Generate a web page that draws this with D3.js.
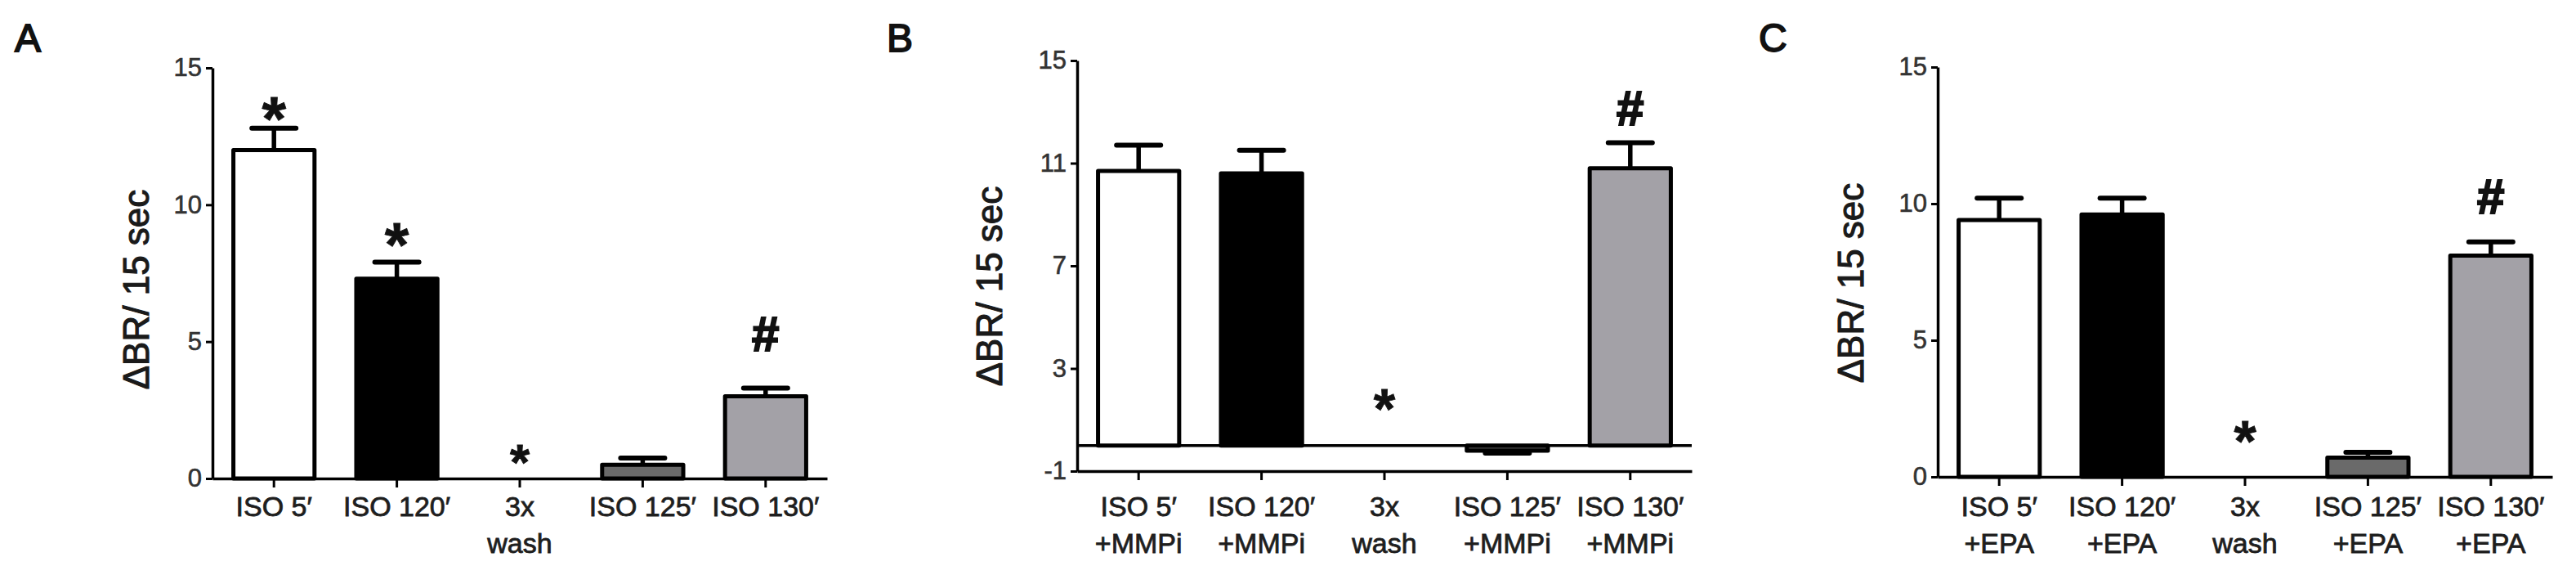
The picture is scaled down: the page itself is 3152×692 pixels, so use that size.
<!DOCTYPE html>
<html>
<head>
<meta charset="utf-8">
<script src="https://cdn.jsdelivr.net/npm/d3@7"></script>
<style>
  body { margin: 0; background: #fff; }
  svg { display: block; font-family: "Liberation Sans", Arial, sans-serif; }
</style>
</head>
<body>
<script>
// categories (line-split labels)
var catsA = [["ISO 5\u2032"], ["ISO 120\u2032"], ["3x", "wash"], ["ISO 125\u2032"], ["ISO 130\u2032"]];
var catsB = [["ISO 5\u2032", "+MMPi"], ["ISO 120\u2032", "+MMPi"], ["3x", "wash"], ["ISO 125\u2032", "+MMPi"], ["ISO 130\u2032", "+MMPi"]];
var catsC = [["ISO 5\u2032", "+EPA"], ["ISO 120\u2032", "+EPA"], ["3x", "wash"], ["ISO 125\u2032", "+EPA"], ["ISO 130\u2032", "+EPA"]];

// mean values and SEM
var valsA = [12.0, 7.3, 0, 0.5, 3.0];
var errsA = [0.8, 0.6, 0, 0.25, 0.3];
var valsB = [10.7, 10.6, 0, -0.2, 10.8];
var errsB = [1.0, 0.9, 0, 0.1, 1.0];
var valsC = [9.4, 9.6, 0, 0.7, 8.1];
var errsC = [0.8, 0.6, 0, 0.2, 0.5];

// significance marks and the level (data units) where each sits
var marksA = ["*", "*", "*", "", "#"];
var markYA = [13.7, 9.1, 1.05, null, 5.3];
var marksB = ["", "", "*", "", "#"];
var markYB = [null, null, 1.96, null, 13.15];
var marksC = ["", "", "*", "", "#"];
var markYC = [null, null, 1.8, null, 10.27];

// y ticks
var ticksA = [0, 5, 10, 15];
var ticksB = [-1, 3, 7, 11, 15];
var ticksC = [0, 5, 10, 15];

var fills = ["#ffffff", "#000000", null, "#6a6a6a", "#a3a1a7"];
var fillsB = ["#ffffff", "#000000", null, "#4a4a4a", "#a3a1a7"];

var W = 3152, H = 692;
var svg = d3.select("body").append("svg").attr("width", W).attr("height", H);
svg.append("rect").attr("width", W).attr("height", H).attr("fill", "#fff");

var panels = [
  { letter: "A", letterX: 18, left: 260, top: 83, bottom: 585, domain: [0, 15], ticks: ticksA,
    cats: catsA, vals: valsA, errs: errsA, marks: marksA, markY: markYA, fills: fills, titleDx: 94, titleY: 354, washSize: 62 },
  { letter: "B", letterX: 1085, left: 1318, top: 74, bottom: 576, domain: [-1, 15], ticks: ticksB,
    cats: catsB, vals: valsB, errs: errsB, marks: marksB, markY: markYB, fills: fillsB, titleDx: 108, titleY: 350, washSize: 68 },
  { letter: "C", letterX: 2152, left: 2371, top: 82, bottom: 583, domain: [0, 15], ticks: ticksC,
    cats: catsC, vals: valsC, errs: errsC, marks: marksC, markY: markYC, fills: fills, titleDx: 107, titleY: 346, washSize: 70 }
];

panels.forEach(drawPanel);

function heavy(sel, color, w) {
  sel.attr("fill", color).attr("stroke", color).attr("stroke-width", w).attr("paint-order", "stroke");
}

function drawPanel(p) {
  var g = svg.append("g");
  var plotW = 752;
  var x = d3.scaleBand().domain(d3.range(p.cats.length))
    .range([p.left, p.left + plotW]).paddingInner(0.34).paddingOuter(0.17);
  var y = d3.scaleLinear().domain(p.domain).range([p.bottom, p.top]);
  var bw = x.bandwidth();

  // panel letter
  heavy(g.append("text").attr("x", p.letterX).attr("y", 63)
    .attr("font-size", 48).text(p.letter), "#111", 1.8);

  // y title
  heavy(g.append("text")
    .attr("transform", "translate(" + (p.left - p.titleDx + 16) + "," + p.titleY + ") rotate(-90)")
    .attr("text-anchor", "middle").attr("font-size", 44)
    .text("\u0394BR/ 15 sec"), "#1a1a1a", 1.1);

  // y axis
  var ya = g.append("g").attr("transform", "translate(" + p.left + ",0)")
    .call(d3.axisLeft(y).tickValues(p.ticks).tickSize(8).tickSizeOuter(0).tickPadding(5)
      .tickFormat(function (d) { return String(d); }));
  ya.select(".domain").attr("stroke-width", 3.5);
  ya.selectAll(".tick line").attr("stroke-width", 3);
  heavy(ya.selectAll(".tick text").attr("font-size", 31)
    .attr("font-family", "Liberation Sans, Arial, sans-serif"), "#333", 0.6);

  // x axis at the bottom of the domain
  var xa = g.append("g").attr("transform", "translate(0," + p.bottom + ")")
    .call(d3.axisBottom(x).tickSize(11).tickSizeOuter(0).tickFormat(""));
  xa.select(".domain").attr("stroke-width", 3.5);
  xa.selectAll(".tick line").attr("stroke-width", 3);

  // zero line when the axis starts below zero
  if (p.domain[0] < 0) {
    g.append("line").attr("x1", p.left).attr("x2", p.left + plotW)
      .attr("y1", y(0)).attr("y2", y(0)).attr("stroke", "#000").attr("stroke-width", 3.5);
  }

  // error bars (behind the bar tops)
  p.vals.forEach(function (v, i) {
    if (!p.fills[i]) return;
    var cx = x(i) + bw / 2;
    var e = v >= 0 ? v + p.errs[i] : v - p.errs[i];
    g.append("line").attr("x1", cx).attr("x2", cx).attr("y1", y(v)).attr("y2", y(e))
      .attr("stroke", "#000").attr("stroke-width", 5.5);
    g.append("line").attr("x1", cx - 27).attr("x2", cx + 27).attr("y1", y(e)).attr("y2", y(e))
      .attr("stroke", "#000").attr("stroke-width", 6).attr("stroke-linecap", "round");
  });

  // bars
  g.selectAll(".bar").data(p.vals.map(function (v, i) { return { v: v, i: i }; })
    .filter(function (d) { return p.fills[d.i]; }))
    .enter().append("rect").attr("class", "bar")
    .attr("x", function (d) { return x(d.i); })
    .attr("width", bw)
    .attr("y", function (d) { return y(Math.max(0, d.v)); })
    .attr("height", function (d) { return Math.abs(y(d.v) - y(0)); })
    .attr("fill", function (d) { return p.fills[d.i]; })
    .attr("stroke", "#000").attr("stroke-width", 5).attr("stroke-linejoin", "round");

  // significance marks
  p.marks.forEach(function (m, i) {
    if (!m) return;
    var fs = m === "#" ? 60 : (p.fills[i] ? 76 : p.washSize);
    var shift = m === "*" ? 0.59 : 0.35;
    var t = g.append("text").attr("x", x(i) + bw / 2).attr("y", y(p.markY[i]) + shift * fs)
      .attr("text-anchor", "middle").attr("font-size", fs).attr("font-weight", "bold").text(m);
    heavy(t, "#111", m === "#" ? 2.2 : 0.8);
  });

  // category labels
  p.cats.forEach(function (lines, i) {
    var t = g.append("text").attr("text-anchor", "middle").attr("font-size", 34);
    heavy(t, "#1e1e1e", 0.8);
    lines.forEach(function (s, k) {
      t.append("tspan").attr("x", x(i) + bw / 2).attr("y", 631 + k * 45).text(s);
    });
  });
}
</script>
</body>
</html>
